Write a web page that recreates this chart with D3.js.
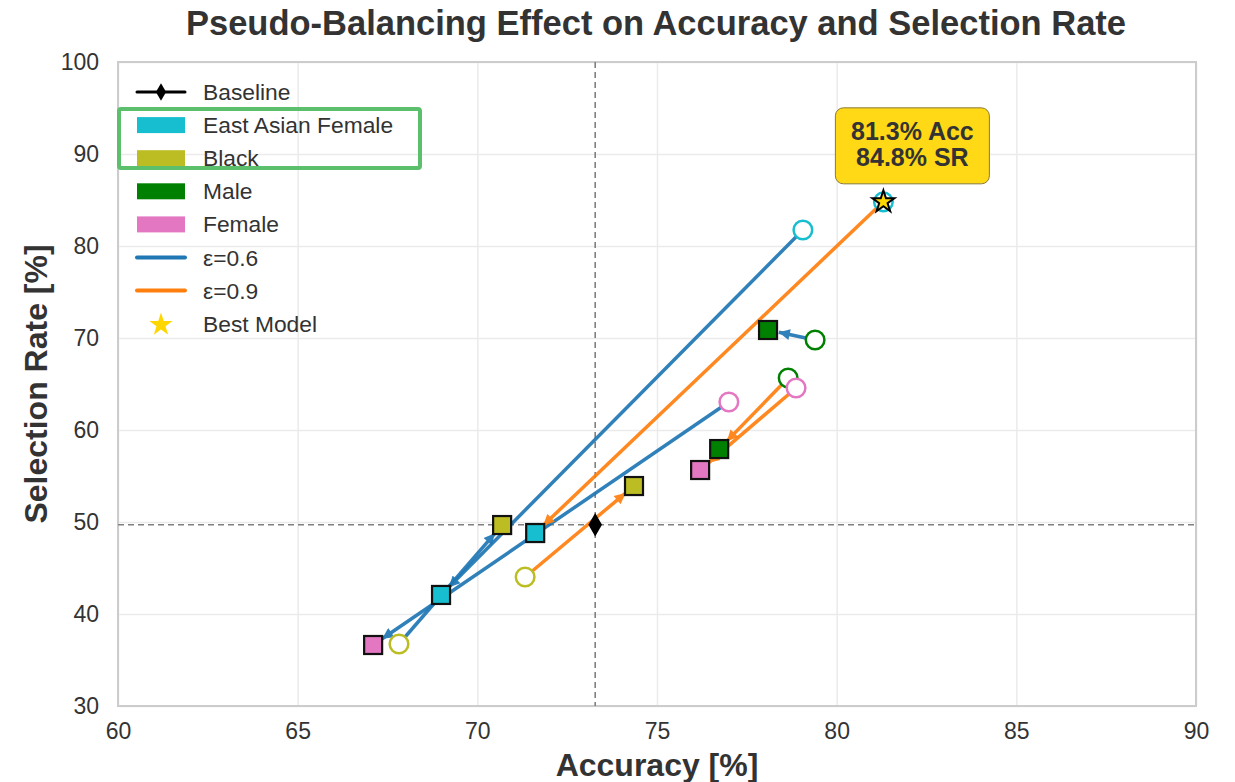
<!DOCTYPE html>
<html>
<head>
<meta charset="utf-8">
<script src="https://cdn.jsdelivr.net/npm/d3@7"></script>
<style>
  body { margin: 0; background: #fff; }
  text { font-family: "Liberation Sans", Arial, sans-serif; fill: #333; }
</style>
</head>
<body>
<div class="canvas"></div>
<script>
// groups and colours
const groups = ['East Asian Female', 'Black', 'Male', 'Female'];
const groupColours = ['#17becf', '#bcbd22', '#008000', '#e377c2'];
const epsLabels = ['ε=0.6', 'ε=0.9'];
const epsColours = ['#1f77b4', '#ff7f0e'];

// before (circle) -> after (square), per epsilon
const accBefore06 = [79.06, 67.82, 79.40, 77.00];
const srBefore06  = [81.74, 36.74, 69.78, 63.04];
const accAfter06  = [68.99, 70.69, 78.09, 67.10];
const srAfter06   = [42.07, 49.67, 70.87, 36.63];

const accBefore09 = [81.30, 71.33, 78.65, 78.87];
const srBefore09  = [84.80, 44.02, 65.65, 64.57];
const accAfter09  = [71.61, 74.36, 76.73, 76.20];
const srAfter09   = [48.80, 53.91, 57.93, 55.65];

const baseline = [73.28, 49.7];
const bestModel = [81.3, 84.8];

const xTicks = [60, 65, 70, 75, 80, 85, 90];
const yTicks = [30, 40, 50, 60, 70, 80, 90, 100];

const margin = {top: 62, right: 39, bottom: 76, left: 118}
const width = 1235, height = 782
const innerW = width - margin.left - margin.right
const innerH = height - margin.top - margin.bottom

const svg = d3.select('.canvas')
    .append('svg')
    .attr('width', width)
    .attr('height', height)

const x = d3.scaleLinear().domain([60, 90]).range([margin.left, margin.left + innerW])
const y = d3.scaleLinear().domain([30, 100]).range([margin.top + innerH, margin.top])

// grid
svg.append('g')
    .attr('transform', `translate(0, ${margin.top + innerH})`)
    .call(d3.axisBottom(x).tickValues(xTicks).tickSize(-innerH).tickFormat(''))
    .call(g => g.select('.domain').remove())
    .selectAll('line').attr('stroke', '#ebebeb').attr('stroke-width', 1.5)
svg.append('g')
    .attr('transform', `translate(${margin.left}, 0)`)
    .call(d3.axisLeft(y).tickValues(yTicks).tickSize(-innerW).tickFormat(''))
    .call(g => g.select('.domain').remove())
    .selectAll('line').attr('stroke', '#ebebeb').attr('stroke-width', 1.5)

// tick labels
const xAxis = svg.append('g')
    .attr('transform', `translate(0, ${margin.top + innerH})`)
    .call(d3.axisBottom(x).tickValues(xTicks).tickSize(0).tickPadding(17))
xAxis.select('.domain').remove()
xAxis.selectAll('text').style('font-size', '23px').attr('fill', '#333')
    .style('font-family', '"Liberation Sans", Arial, sans-serif')

const yAxis = svg.append('g')
    .attr('transform', `translate(${margin.left}, 0)`)
    .call(d3.axisLeft(y).tickValues(yTicks).tickSize(0).tickPadding(19))
yAxis.select('.domain').remove()
yAxis.selectAll('text').style('font-size', '23px').attr('fill', '#333')
    .style('font-family', '"Liberation Sans", Arial, sans-serif')

// frame
svg.append('rect')
    .attr('x', margin.left).attr('y', margin.top)
    .attr('width', innerW).attr('height', innerH)
    .attr('fill', 'none').attr('stroke', '#cccccc').attr('stroke-width', 2)

// baseline reference lines
svg.append('line')
    .attr('x1', x(baseline[0])).attr('x2', x(baseline[0]))
    .attr('y1', margin.top).attr('y2', margin.top + innerH)
    .attr('stroke', '#808080').attr('stroke-width', 1.6).attr('stroke-dasharray', '6,4')
svg.append('line')
    .attr('x1', margin.left).attr('x2', margin.left + innerW)
    .attr('y1', y(baseline[1])).attr('y2', y(baseline[1]))
    .attr('stroke', '#808080').attr('stroke-width', 1.6).attr('stroke-dasharray', '6,4')

// arrowheads
const defs = svg.append('defs')
epsColours.forEach((c, i) => {
    defs.append('marker')
        .attr('id', 'arrow' + i)
        .attr('viewBox', '0 0 10 10')
        .attr('refX', 10).attr('refY', 5)
        .attr('markerWidth', 13).attr('markerHeight', 11)
        .attr('markerUnits', 'userSpaceOnUse')
        .attr('orient', 'auto')
        .append('path')
        .attr('d', 'M0,0 L10,5 L0,10 Z')
        .attr('fill', c)
})

const series = [
    {acc0: accBefore06, sr0: srBefore06, acc1: accAfter06, sr1: srAfter06},
    {acc0: accBefore09, sr0: srBefore09, acc1: accAfter09, sr1: srAfter09}
]

const moves = []
series.forEach((s, e) => {
    groups.forEach((g, i) => {
        moves.push({e, i, x0: x(s.acc0[i]), y0: y(s.sr0[i]), x1: x(s.acc1[i]), y1: y(s.sr1[i])})
    })
})

// arrows, shortened so the tip touches the square
svg.append('g').selectAll('line')
    .data(moves)
    .enter()
    .append('line')
    .attr('x1', d => d.x0).attr('y1', d => d.y0)
    .attr('x2', d => {
        const dx = d.x1 - d.x0, dy = d.y1 - d.y0, len = Math.hypot(dx, dy)
        return d.x1 - dx / len * 11
    })
    .attr('y2', d => {
        const dx = d.x1 - d.x0, dy = d.y1 - d.y0, len = Math.hypot(dx, dy)
        return d.y1 - dy / len * 11
    })
    .attr('stroke', d => epsColours[d.e])
    .attr('stroke-width', 3.5)
    .attr('opacity', 0.92)
    .attr('marker-end', d => `url(#arrow${d.e})`)

// before points
svg.append('g').selectAll('circle')
    .data(moves)
    .enter()
    .append('circle')
    .attr('cx', d => d.x0).attr('cy', d => d.y0)
    .attr('r', 9.3)
    .attr('fill', '#fff')
    .attr('stroke', d => groupColours[d.i])
    .attr('stroke-width', 2.5)

// after points
const sq = 18
svg.append('g').selectAll('rect')
    .data(moves)
    .enter()
    .append('rect')
    .attr('x', d => d.x1 - sq / 2).attr('y', d => d.y1 - sq / 2)
    .attr('width', sq).attr('height', sq)
    .attr('fill', d => groupColours[d.i])
    .attr('stroke', '#111').attr('stroke-width', 2.2)

// baseline marker
svg.append('path')
    .attr('d', d3.symbol().type(d3.symbolDiamond).size(160)())
    .attr('transform', `translate(${x(baseline[0])}, ${y(baseline[1])})`)
    .attr('fill', '#000')

// best model star
svg.append('path')
    .attr('d', d3.symbol().type(d3.symbolStar).size(150)())
    .attr('transform', `translate(${x(bestModel[0])}, ${y(bestModel[1])})`)
    .attr('fill', '#ffd700').attr('stroke', '#000').attr('stroke-width', 2)

// annotation box
const bx = x(bestModel[0]), by = y(bestModel[1])
const note = svg.append('g').attr('transform', `translate(${bx}, ${by - 56})`)
note.append('rect')
    .attr('x', -48).attr('y', -38).attr('width', 154).attr('height', 76)
    .attr('rx', 8)
    .attr('fill', '#ffd816').attr('stroke', '#8a7a3a').attr('stroke-width', 1)
note.selectAll('text')
    .data([`${bestModel[0]}% Acc`, `${bestModel[1]}% SR`])
    .enter()
    .append('text')
    .attr('x', 29)
    .attr('y', (d, i) => -6 + i * 26.5)
    .attr('text-anchor', 'middle')
    .style('font-size', '25px')
    .style('font-weight', 'bold')
    .attr('fill', '#2a2a2a')
    .text(d => d)

// legend
const legendItems = [
    {label: 'Baseline', kind: 'diamond', colour: '#000'},
    ...groups.map((g, i) => ({label: g, kind: 'patch', colour: groupColours[i]})),
    ...epsLabels.map((g, i) => ({label: g, kind: 'line', colour: epsColours[i]})),
    {label: 'Best Model', kind: 'star', colour: '#ffd700'}
]
const legend = svg.append('g').attr('transform', 'translate(137, 92)')
const item = legend.selectAll('g')
    .data(legendItems)
    .enter()
    .append('g')
    .attr('transform', (d, i) => `translate(0, ${i * 33.1})`)
item.filter(d => d.kind === 'patch').append('rect')
    .attr('x', 0).attr('y', -8).attr('width', 48).attr('height', 16)
    .attr('fill', d => d.colour)
item.filter(d => d.kind === 'line').append('line')
    .attr('x1', 0).attr('x2', 48).attr('y1', 0).attr('y2', 0)
    .attr('stroke', d => d.colour).attr('stroke-width', 4).attr('stroke-linecap', 'round')
item.filter(d => d.kind === 'diamond').append('line')
    .attr('x1', 0).attr('x2', 48).attr('y1', 0).attr('y2', 0)
    .attr('stroke', '#000').attr('stroke-width', 3).attr('stroke-linecap', 'round')
item.filter(d => d.kind === 'diamond').append('path')
    .attr('d', d3.symbol().type(d3.symbolDiamond).size(90)())
    .attr('transform', 'translate(24, 0)')
    .attr('fill', '#000')
item.filter(d => d.kind === 'star').append('path')
    .attr('d', d3.symbol().type(d3.symbolStar).size(170)())
    .attr('transform', 'translate(24, 1)')
    .attr('fill', d => d.colour)
item.append('text')
    .attr('x', 66).attr('y', 8)
    .style('font-size', '22.8px')
    .text(d => d.label)

// highlight around two legend entries
svg.append('rect')
    .attr('x', 119).attr('y', 109).attr('width', 301).attr('height', 59)
    .attr('rx', 2)
    .attr('fill', 'none').attr('stroke', '#5cbf6b').attr('stroke-width', 4)

// titles
svg.append('text')
    .attr('x', margin.left + innerW / 2 - 1).attr('y', 35)
    .attr('text-anchor', 'middle')
    .style('font-size', '34.5px').style('font-weight', 'bold')
    .text('Pseudo-Balancing Effect on Accuracy and Selection Rate')
svg.append('text')
    .attr('x', margin.left + innerW / 2).attr('y', 776)
    .attr('text-anchor', 'middle')
    .style('font-size', '32px').style('font-weight', 'bold')
    .text('Accuracy [%]')
svg.append('text')
    .attr('transform', `translate(47, ${margin.top + innerH / 2}) rotate(-90)`)
    .attr('text-anchor', 'middle')
    .style('font-size', '32px').style('font-weight', 'bold')
    .text('Selection Rate [%]')
</script>
</body>
</html>
